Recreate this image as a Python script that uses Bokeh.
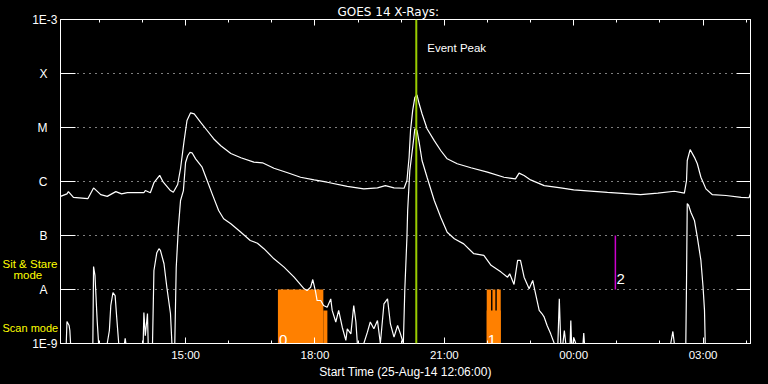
from bokeh.plotting import figure
from bokeh.models import LinearAxis, LogAxis, FixedTicker, Range1d, Label, Span
from bokeh.layouts import row
from bokeh.core.properties import value
from bokeh.embed import file_html
from bokeh.resources import INLINE

# ---------------- data ----------------
title_text = "GOES 14 X-Rays:"
x_axis_label = "Start Time (25-Aug-14 12:06:00)"
start_time, end_time = "12:06", "04:06"

# 1-8 Angstrom (upper) channel
long_times = ["12:06", "12:15", "12:17", "12:24", "12:44", "12:52", "13:02", "13:11", "13:23", "13:31",
              "13:39", "14:02", "14:04", "14:11", "14:16", "14:24", "14:29", "14:39", "14:43", "14:49",
              "14:53", "14:58", "15:02", "15:07", "15:12", "15:21", "15:30", "15:39", "15:49", "16:03",
              "16:17", "16:35", "16:47", "17:03", "17:22", "17:40", "17:59", "18:17", "18:45", "19:08",
              "19:27", "19:38", "19:50", "20:04", "20:08", "20:11", "20:13", "20:16", "20:19", "20:22",
              "20:25", "20:29", "20:36", "20:46", "20:55", "21:04", "21:18", "21:37", "22:00", "22:23",
              "22:39", "22:44", "22:51", "23:00", "23:19", "23:42", "00:00", "00:47", "01:33", "01:57",
              "02:20", "02:34", "02:37", "02:38", "02:42", "02:48", "02:52", "02:57", "03:04", "03:13",
              "03:32", "03:53", "04:04", "04:06"]
long_flux = [5.3e-7, 5.9e-7, 6.5e-7, 5.1e-7, 4.8e-7, 7.6e-7, 5.7e-7, 5.3e-7, 6.5e-7, 5.9e-7,
             6.2e-7, 6.2e-7, 6.8e-7, 6.2e-7, 9.5e-7, 1.3e-6, 9.7e-7, 6.8e-7, 6.3e-7, 8.8e-7,
             1.74e-6, 5.7e-6, 1.35e-5, 1.87e-5, 1.79e-5, 1.25e-5, 8.8e-6, 6.2e-6, 4.6e-6, 3.3e-6,
             2.75e-6, 2.28e-6, 2.22e-6, 1.76e-6, 1.45e-6, 1.2e-6, 1.07e-6, 9.7e-7, 8.1e-7, 7.3e-7,
             7.6e-7, 8.4e-7, 7.6e-7, 7.5e-7, 1.04e-6, 2.8e-6, 8.8e-6, 2.07e-5, 3.6e-5, 4.0e-5,
             2.75e-5, 1.8e-5, 9.5e-6, 5.7e-6, 3.75e-6, 2.63e-6, 2.13e-6, 1.8e-6, 1.49e-6, 1.2e-6,
             1.12e-6, 1.43e-6, 1.29e-6, 1.07e-6, 8.4e-7, 7.6e-7, 7.0e-7, 6.3e-7, 5.7e-7, 6.1e-7,
             6.6e-7, 6.1e-7, 1.04e-6, 2.45e-6, 3.9e-6, 2.8e-6, 2.13e-6, 1.2e-6, 7.3e-7, 5.7e-7,
             5.5e-7, 5.1e-7, 5.0e-7, 6.0e-7]

# 0.5-4 Angstrom (lower) channel
short_times = ["12:06", "12:14", "12:15", "12:18", "12:19", "12:20", "12:51", "12:52", "12:54", "12:57",
               "12:59", "13:11", "13:14", "13:16", "13:19", "13:22", "13:24", "13:27", "13:35", "13:36",
               "13:37", "14:01", "14:02", "14:04", "14:07", "14:08", "14:14", "14:16", "14:20", "14:23",
               "14:25", "14:30", "14:34", "14:39", "14:41", "14:45", "14:47", "14:50", "14:53", "14:57",
               "15:00", "15:03", "15:06", "15:09", "15:14", "15:23", "15:30", "15:37", "15:46", "15:53",
               "16:03", "16:17", "16:30", "16:40", "16:49", "17:03", "17:17", "17:31", "17:45", "17:49",
               "17:54", "17:57", "18:01", "18:03", "18:08", "18:12", "18:17", "18:22", "18:24", "18:29",
               "18:33", "18:38", "18:43", "18:45", "18:50", "18:54", "18:57", "18:59", "19:08", "19:13",
               "19:17", "19:22", "19:27", "19:31", "19:36", "19:41", "19:45", "19:50", "19:55", "19:59",
               "20:03", "20:05", "20:08", "20:09", "20:12", "20:16", "20:19", "20:22", "20:25", "20:29",
               "20:36", "20:46", "20:55", "21:04", "21:14", "21:27", "21:41", "21:55", "22:05", "22:19",
               "22:28", "22:31", "22:37", "22:42", "22:46", "22:51", "22:58", "23:03", "23:07", "23:12",
               "23:16", "23:19", "23:23", "23:28", "23:33", "23:38", "23:40", "23:42", "23:45", "23:47",
               "23:49", "23:55", "23:56", "23:57", "23:59", "00:00", "00:03", "00:13", "00:14", "00:15",
               "02:15", "02:18", "02:20", "02:36", "02:37", "02:38", "02:40", "02:43", "02:48", "02:52",
               "02:57", "03:00", "03:02", "03:03", "04:06"]
short_flux = [1e-9, 1e-9, 2.55e-9, 2.15e-9, 1.74e-9, 1e-9, 1e-9, 2.67e-8, 1.8e-8, 2.67e-9,
              1e-9, 1e-9, 1.74e-9, 5.1e-9, 8.8e-9, 7.7e-9, 3.3e-9, 1e-9, 1e-9, 1.24e-9,
              1e-9, 1e-9, 3.75e-9, 1.4e-9, 3.6e-9, 1e-9, 1e-9, 2.25e-8, 4.8e-8, 5.7e-8,
              5.3e-8, 3.0e-8, 1.09e-8, 3.6e-9, 1e-9, 1e-9, 2.55e-8, 1.4e-7, 4.45e-7, 6.8e-7,
              2.25e-6, 3.0e-6, 3.45e-6, 3.4e-6, 2.63e-6, 1.84e-6, 1.04e-6, 5.9e-7, 2.9e-7, 2.04e-7,
              1.65e-7, 1.15e-7, 8.1e-8, 7.2e-8, 5.7e-8, 3.7e-8, 2.6e-8, 1.69e-8, 1.03e-8, 9.6e-9,
              1.1e-8, 1.53e-8, 8.9e-9, 6.25e-9, 6.25e-9, 5.06e-9, 4.7e-9, 6.7e-9, 4.1e-9, 2.5e-9,
              4.1e-9, 2.0e-9, 1.14e-9, 1.87e-9, 1.51e-9, 5.06e-9, 2.5e-9, 1e-9, 1e-9, 1.62e-9,
              2.5e-9, 1.87e-9, 2.67e-9, 1e-9, 5.4e-9, 6.7e-9, 2.3e-9, 1.31e-9, 2.15e-9, 1.51e-9,
              1e-9, 9.6e-9, 9.3e-8, 2.9e-7, 1.6e-6, 4.3e-6, 9.5e-6, 8.8e-6, 5.3e-6, 2.45e-6,
              1.2e-6, 4.45e-7, 2.18e-7, 1.15e-7, 8.7e-8, 7.0e-8, 4.6e-8, 4.3e-8, 2.8e-8, 2.1e-8,
              1.69e-8, 1.95e-8, 1.24e-8, 3.45e-8, 3.45e-8, 1.69e-8, 1.03e-8, 1.47e-8, 8.3e-9, 4.1e-9,
              3.55e-9, 3.07e-9, 2.15e-9, 1.51e-9, 1e-9, 1e-9, 6.7e-9, 1e-9, 1e-9, 1.74e-9,
              1e-9, 1e-9, 2.67e-9, 1e-9, 1e-9, 1.29e-9, 1e-9, 1e-9, 1.56e-9, 1e-9,
              1e-9, 1.67e-9, 1e-9, 1e-9, 1.47e-8, 3.9e-7, 3.6e-7, 2.7e-7, 1.9e-7, 9.3e-8,
              3.45e-8, 1.1e-8, 4.1e-9, 1e-9, 1e-9]

# scan-mode intervals (orange) and their labels
scan_starts = ["17:08.5", "18:11.7", "21:59", "22:07", "22:13", "21:59"]
scan_ends = ["18:11.7", "18:17.3", "22:05", "22:11", "22:18.5", "22:18.5"]
scan_tops = [1e-8, 4.1e-9, 1e-8, 1e-8, 1e-8, 4.1e-9]
scan_labels = [("0", "17:08.5"), ("1", "21:59")]

# sit & stare pointing (magenta)
sit_time, sit_low, sit_high, sit_label = "00:58", 1e-8, 1e-7, "2"

event_peak_time = "20:21"

flux_ticks = [1e-9, 1e-8, 1e-7, 1e-6, 1e-5, 1e-4, 1e-3]
flux_labels = ["1E-9", "A", "B", "C", "M", "X", "1E-3"]
hour_ticks = [15, 18, 21, 24, 27]
hour_labels = ["15:00", "18:00", "21:00", "00:00", "03:00"]
hour_minor = list(range(13, 29))

mode_labels = ["Sit & Stare", "mode", "Scan mode"]
mode_levels = [1e-8, 1e-8, 1e-9]


def hours(s):
    hh, mm = s.split(":")
    h = int(hh) + float(mm) / 60.0
    return h + 24 if h < 12 else h


TICK_FONT = "Liberation Sans"
W, H = 768, 384
LEFT_W = 60
TOP_B, BOTTOM_B = 19, 41

t0, t1 = hours(start_time), hours(end_time)
yr = Range1d(flux_ticks[0], flux_ticks[-1])

# ---------------- left strip: flux-class labels and mode captions ----------------
# its frame spans the full strip height, with a log range that lines up with the main plot's
decade_px = (H - TOP_B - BOTTOM_B) / (len(flux_ticks) - 1)
yr_strip = Range1d(flux_ticks[0] / 10 ** (BOTTOM_B / decade_px),
                   flux_ticks[-1] * 10 ** (TOP_B / decade_px))
lf = figure(width=LEFT_W, height=H, output_backend="svg", toolbar_location=None,
            x_range=Range1d(0, LEFT_W), y_range=yr_strip, y_axis_type="log",
            x_axis_location=None, y_axis_location=None,
            min_border_left=0, min_border_right=0, min_border_top=0, min_border_bottom=0)
lf.frame_align = False
lf.background_fill_color = "black"
lf.border_fill_color = "black"
lf.outline_line_color = None
lf.grid.visible = False

num_mask = [lab.startswith("1E") for lab in flux_labels]
lf.text(x=[LEFT_W - 3 if m else LEFT_W - 13 for m in num_mask], y=flux_ticks, text=flux_labels,
        text_align="right", text_baseline="middle", text_color="white",
        text_font=value(TICK_FONT), text_font_size="12px")
lf.text(x=[2, 13], y=mode_levels[:2], text=mode_labels[:2], y_offset=[-26, -15],
        text_align="left", text_baseline="alphabetic", text_color="#ffff00",
        text_font=value(TICK_FONT), text_font_size="11.5px")
lf.text(x=[2], y=mode_levels[2:], text=mode_labels[2:], y_offset=[-16],
        text_align="left", text_baseline="alphabetic", text_color="#ffff00",
        text_font=value(TICK_FONT), text_font_size="11px")

# ---------------- main plot ----------------
p = figure(width=W - LEFT_W, height=H, output_backend="svg", toolbar_location=None,
           x_range=Range1d(t0, t1), y_range=yr, y_axis_type="log",
           min_border_left=0, min_border_right=18,
           min_border_top=TOP_B, min_border_bottom=BOTTOM_B)
p.frame_align = False
p.background_fill_color = "black"
p.border_fill_color = "black"
p.outline_line_color = "white"
p.xgrid.visible = False
p.ygrid.ticker = FixedTicker(ticks=flux_ticks[1:-1], minor_ticks=[])
p.ygrid.grid_line_color = "white"
p.ygrid.grid_line_dash = "1 5"
p.ygrid.grid_line_dash_offset = 1

p.title.text = title_text
p.title.align = "left"
p.title.offset = 277
p.title.text_color = "white"
p.title.text_font = "DejaVu Sans"
p.title.text_font_size = "12px"
p.title.text_font_style = "normal"
p.title.standoff = 2

xt = FixedTicker(ticks=hour_ticks, minor_ticks=hour_minor)
yt = FixedTicker(ticks=flux_ticks, minor_ticks=[])

xa = p.xaxis[0]
xa.ticker = xt
xa.major_label_overrides = {t: l for t, l in zip(hour_ticks, hour_labels)}
xa.axis_label = x_axis_label

ya = p.yaxis[0]
ya.ticker = yt

top = LinearAxis(ticker=xt)
right = LogAxis(ticker=yt)
p.add_layout(top, "above")
p.add_layout(right, "right")

for ax in (xa, ya, top, right):
    ax.axis_line_color = "white"
    ax.major_tick_line_color = "white"
    ax.minor_tick_line_color = "white"
    ax.major_tick_out = 0
    ax.minor_tick_out = 0
    ax.major_label_text_color = "white"
    ax.major_label_text_font = TICK_FONT
    ax.axis_label_text_color = "white"
    ax.axis_label_text_font = TICK_FONT
    ax.axis_label_text_font_style = "normal"
    ax.axis_label_text_font_size = "12px"

for ax in (xa, top):
    ax.major_tick_in = 6
    ax.minor_tick_in = 3
for ax in (ya, right):
    ax.major_tick_in = 15
    ax.minor_tick_in = 0
right.major_tick_in = 14

xa.major_label_text_font_size = "11.5px"
xa.major_label_standoff = 5
xa.axis_label_standoff = 1
for ax in (top, right, ya):
    ax.major_label_text_font_size = "1px"
    ax.major_label_text_color = None
    ax.major_label_standoff = 0

# scan mode blocks
p.quad(left=[hours(s) for s in scan_starts], right=[hours(e) for e in scan_ends],
       bottom=flux_ticks[0], top=scan_tops, fill_color="#ff8000", line_color=None)

# sit & stare marker
st = hours(sit_time)
p.segment(x0=[st], y0=[sit_low], x1=[st], y1=[sit_high], line_color="#cc00cc", line_width=1.5)

# GOES curves
p.line([hours(t) for t in long_times], long_flux, line_color="white", line_width=1.2)
p.line([hours(t) for t in short_times], short_flux, line_color="white", line_width=1.2)

# event peak
pk = hours(event_peak_time)
p.add_layout(Span(location=pk, dimension="height", line_color="#99cc00", line_width=2))

p.add_layout(Label(x=pk, y=flux_ticks[-1], x_offset=11, y_offset=-28, text="Event Peak",
                   text_align="left", text_baseline="alphabetic", text_color="white",
                   text_font=TICK_FONT, text_font_size="11.5px"))
for txt, tstr in scan_labels:
    p.add_layout(Label(x=hours(tstr), y=flux_ticks[0], x_offset=1, y_offset=4, text=txt,
                       text_align="left", text_baseline="alphabetic", text_color="white",
                       text_font=TICK_FONT, text_font_size="15px"))
p.add_layout(Label(x=st, y=sit_low, x_offset=1, y_offset=11, text=sit_label,
                   text_align="left", text_baseline="alphabetic", text_color="white",
                   text_font=TICK_FONT, text_font_size="15px"))

layout = row(lf, p, spacing=0)
html = file_html(layout, INLINE, title="GOES 14 X-Rays")
html = html.replace("</head>",
                    "<style>html,body{margin:0;padding:0;background:#000;overflow:hidden;}</style></head>", 1)
open("out.html", "w").write(html)
